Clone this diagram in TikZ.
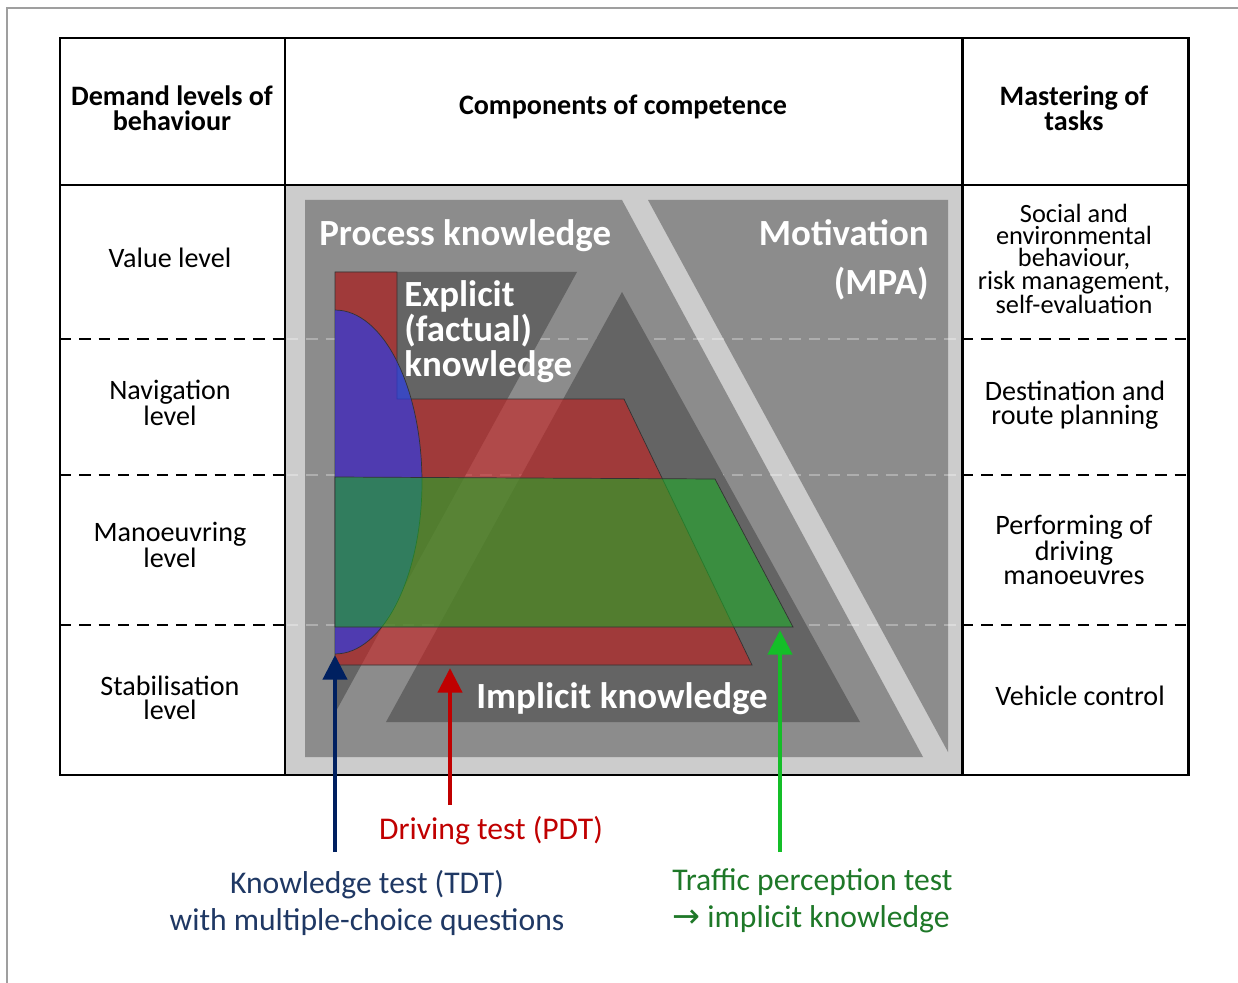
\documentclass[tikz,border=0pt]{standalone}
\usepackage{fontspec}
\setmainfont{Carlito}
\newfontfamily\symfont{DejaVu Sans}
\usetikzlibrary{arrows.meta}
\definecolor{panel}{RGB}{204,204,204}
\definecolor{midgray}{RGB}{140,140,140}
\definecolor{dkgray}{RGB}{100,100,100}
\definecolor{exred}{RGB}{200,30,30}
\definecolor{exblue}{RGB}{40,60,235}
\definecolor{exgreen}{RGB}{30,170,40}
\definecolor{tdtblue}{RGB}{0,32,96}
\definecolor{pdtred}{RGB}{192,0,0}
\definecolor{tptgreen}{RGB}{20,190,40}
\definecolor{tpttext}{RGB}{30,120,40}
\definecolor{tdttext}{RGB}{31,56,100}
\begin{document}
\begin{tikzpicture}
[   x=0.02cm, y=-0.02cm,
    cell/.style={align=center,inner sep=0pt,font=\fontsize{16}{13.5}\selectfont},
    hdr/.style={cell,font=\bfseries\fontsize{16}{14}\selectfont},
    big/.style={inner sep=0pt,text=white,font=\bfseries\fontsize{21}{20}\selectfont},
    lbl/.style={inner sep=0pt,text=#1,font=\fontsize{18}{21}\selectfont},
    area/.style={fill=#1,draw=black!80,line width=0.4pt,fill opacity=0.6},
    row/.style={dash pattern=on 6.5pt off 4.5pt,line width=1.4pt},
    test/.style={draw=#1,line width=2.8pt,-{Triangle[width=13.5pt,length=14pt]}},
]
    \useasboundingbox (0,0) rectangle (1238,983);
    \draw[gray!75,line width=1.2pt] (7,983) -- (7,8) -- (1238,8);
    % competence panel
    \fill[panel] (285,185) rectangle (962,775);
    \fill[midgray] (305,200) -- (622,200) -- (923,757) -- (305,757) -- cycle;
    \fill[midgray] (648,200) -- (948,200) -- (948,752) -- cycle;
    \foreach \y in {339,475,625}
    {   \draw[row,draw=white,draw opacity=0.3] (287,\y) -- (960,\y);
    }
    \fill[dkgray] (335,272) -- (577,272) -- (335,713) -- cycle;
    \fill[dkgray] (622,292) -- (860,722) -- (386,722) -- cycle;
    \draw[area=exred] (335,272) -- (397,272) -- (397,399) -- (624,399)
        -- (752,665) -- (335,665) -- cycle;
    \begin{scope}
        \clip (335,300) rectangle (430,665);
        \draw[area=exblue,fill opacity=0.67] (335,482) ellipse [x radius=1.74cm,y radius=3.44cm];
    \end{scope}
    \draw[area=exgreen] (335,477) -- (715,479) -- (793,627) -- (335,627) -- cycle;
    \node[big,anchor=west] (proc) at (319,236) {Process knowledge};
    \node[big,anchor=east,align=right,font=\bfseries\fontsize{21}{28}\selectfont] (mot) at (929,260) {Motivation\\(MPA)};
    \node[big,anchor=west,align=left] (expl) at (404,332) {Explicit\\(factual)\\knowledge};
    \node[big] (impl) at (622,699) {Implicit knowledge};
    % table
    \draw[line width=1.7pt] (60,38) rectangle (1188,775);
    \draw[line width=1.7pt] (285,38) -- (285,775);
    \draw[line width=1.7pt] (962,38) -- (962,775);
    \draw[line width=1.7pt] (60,185) -- (1188,185);
    \foreach \y in {339,475,625}
    {   \draw[row] (60,\y) -- (285,\y);
        \draw[row] (962,\y) -- (1188,\y);
    }
    \node[hdr] (h-lvl) at (172,108) {Demand levels of\\behaviour};
    \node[hdr] (h-comp) at (623,107) {Components of competence};
    \node[hdr] (h-task) at (1074,108) {Mastering of\\tasks};
    \foreach \y/\t [count=\i] in {258/{Value level},403/{Navigation\\level},
        545/{Manoeuvring\\level},698/{Stabilisation\\level}}
    {   \node[cell] (lvl-\i) at (170,\y) {\t};
    }
    \node[cell,font=\fontsize{15}{12.7}\selectfont] (task-1) at (1074,259)
        {Social and\\environmental\\behaviour,\\risk management,\\self-evaluation};
    \node[cell] (task-2) at (1075,405) {Destination and\\route planning};
    \node[cell] (task-3) at (1074,550) {Performing of\\driving\\manoeuvres};
    \node[cell] (task-4) at (1080,696) {Vehicle control};
    % tests
    \node[lbl=pdtred] (pdt) at (491,831) {Driving test (PDT)};
    \node[lbl=tdttext,align=center] (tdt) at (367,903) {Knowledge test (TDT)\\with multiple-choice questions};
    \node[lbl=tpttext,align=left,anchor=west] (tpt) at (672,901) {Traffic perception test\\{\symfont\fontsize{19}{21}\selectfont →} implicit knowledge};
    \coordinate (tdt-foot) at (335,852);
    \coordinate (tdt-tip) at (335,655);
    \coordinate (pdt-foot) at (450,805);
    \coordinate (pdt-tip) at (450,668);
    \coordinate (tpt-foot) at (780,852);
    \coordinate (tpt-tip) at (780,630);
    \draw[test=tdtblue] (tdt-foot) -- (tdt-tip);
    \draw[test=pdtred] (pdt-foot) -- (pdt-tip);
    \draw[test=tptgreen] (tpt-foot) -- (tpt-tip);
\end{tikzpicture}
\end{document}
